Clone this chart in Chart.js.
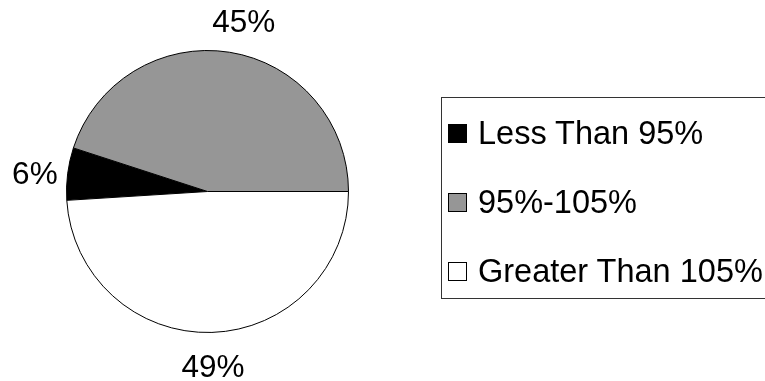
<!DOCTYPE html>
<html>
<head>
<meta charset="utf-8">
<script src="https://cdn.jsdelivr.net/npm/chart.js@4/dist/chart.umd.min.js"></script>
<style>
  html, body { margin: 0; padding: 0; background: #fff; }
  body { width: 765px; height: 381px; overflow: hidden; position: relative;
         font-family: "Liberation Sans", Arial, sans-serif; }
  #wrap { position: absolute; left: 0; top: 0; width: 765px; height: 381px; }
  #legend { position: absolute; left: 441px; top: 97px; width: 360px; height: 202px;
            border: 1px solid #333; box-sizing: border-box; }
  .item { position: absolute; left: 6px; height: 36px; display: flex; align-items: center;
          font-size: 32.5px; color: #000; white-space: nowrap; }
  .swatch { width: 19px; height: 19px; border: 1px solid #000; box-sizing: border-box;
            margin-right: 11px; margin-top: 1px; flex: none; }
</style>
</head>
<body>
<div id="wrap"><canvas id="c" width="765" height="381"></canvas></div>
<div id="legend"></div>
<script>
// Share of readings in each band (percent)
const categories = ['Less Than 95%', '95%-105%', 'Greater Than 105%'];
const shares = [6, 45, 49];
const sliceColors = ['#000000', '#969696', '#ffffff'];

// Percent labels drawn just outside each slice
const outsideLabels = {
  id: 'outsideLabels',
  afterDatasetsDraw(chart, args, opts) {
    const ctx = chart.ctx;
    const meta = chart.getDatasetMeta(0);
    const ds = chart.data.datasets[0];
    ctx.save();
    ctx.font = opts.size + 'px "Liberation Sans", Arial, sans-serif';
    ctx.fillStyle = '#000';
    ctx.textAlign = 'center';
    ctx.textBaseline = 'alphabetic';
    meta.data.forEach((arc, i) => {
      const p = arc.getProps(['x', 'y', 'startAngle', 'endAngle', 'outerRadius'], true);
      const mid = (p.startAngle + p.endAngle) / 2;
      const r = p.outerRadius + opts.gap;
      const shift = (opts.shift && opts.shift[i]) || [0, 0];
      const x = p.x + r * Math.cos(mid) + shift[0];
      const y = p.y + r * Math.sin(mid) + shift[1];
      ctx.fillText(ds.data[i] + '%', x, y + opts.size * 0.358);
    });
    ctx.restore();
  }
};

new Chart(document.getElementById('c'), {
  type: 'pie',
  data: {
    labels: categories,
    datasets: [{
      data: shares,
      backgroundColor: sliceColors,
      borderColor: '#000',
      borderWidth: 1
    }]
  },
  options: {
    responsive: false,
    animation: false,
    rotation: 266.4,
    layout: { padding: { left: 66, right: 416, top: 50, bottom: 48 } },
    plugins: {
      legend: { display: false },
      tooltip: { enabled: false },
      outsideLabels: { size: 31.5, gap: 33, shift: { 0: [0, 3], 1: [9, 1] } }
    }
  },
  plugins: [outsideLabels]
});

// Legend box on the right
const legend = document.getElementById('legend');
const rowCenters = [35, 104, 173];
categories.forEach((name, i) => {
  const row = document.createElement('div');
  row.className = 'item';
  row.style.top = (rowCenters[i] - 18) + 'px';
  const sw = document.createElement('span');
  sw.className = 'swatch';
  sw.style.background = sliceColors[i];
  const tx = document.createElement('span');
  tx.textContent = name;
  row.appendChild(sw);
  row.appendChild(tx);
  legend.appendChild(row);
});
</script>
</body>
</html>
